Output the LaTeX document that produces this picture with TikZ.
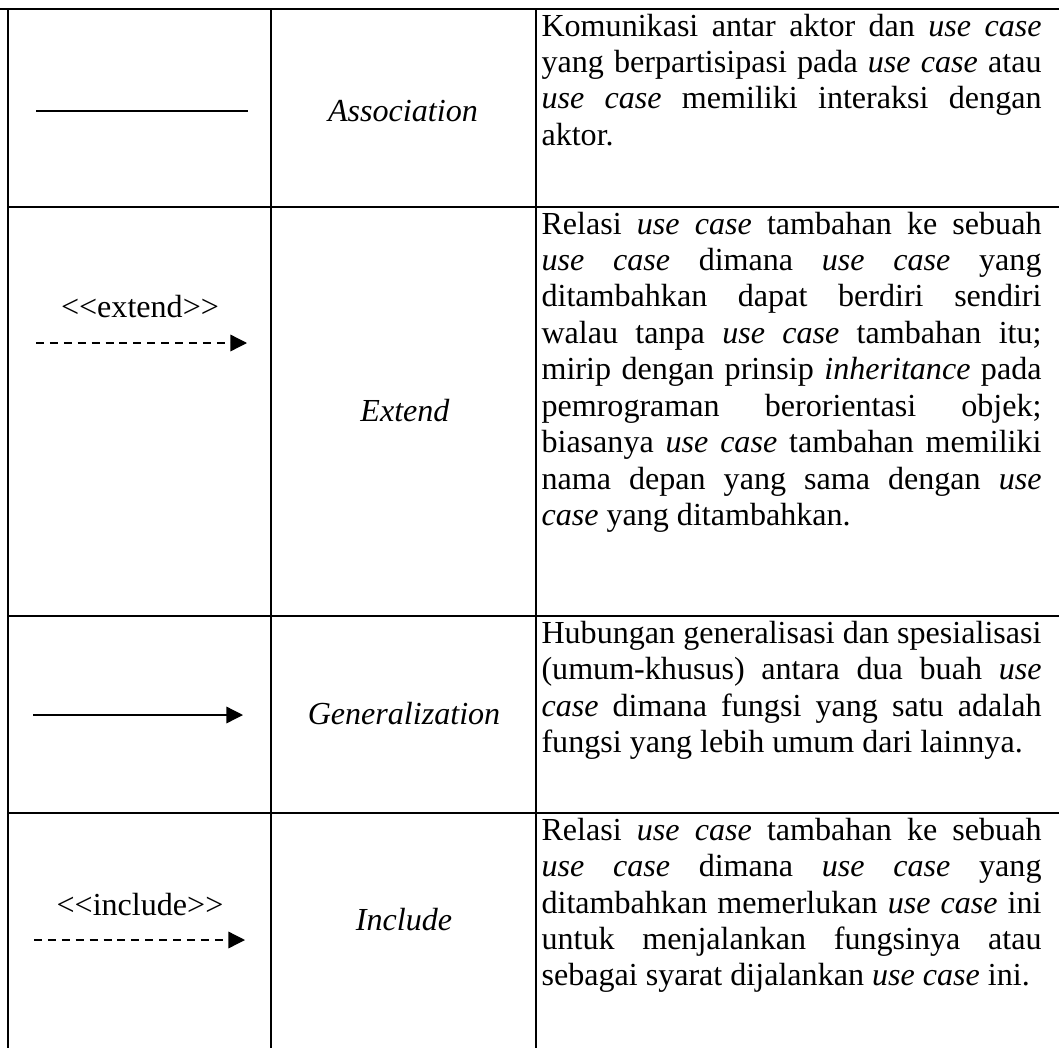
\documentclass[tikz,border=0pt]{standalone}
\usepackage{fontspec}
\setmainfont{Liberation Serif}
\usetikzlibrary{arrows.meta}
\newcommand{\jl}[1]{\makebox[\linewidth][s]{#1}\\}
\newcommand{\uc}{\textit{use case}}
\tikzset{
  grid/.style={line width=0.5pt,black},
  lbl/.style={inner sep=0pt,font=\fontsize{12}{13.65}\selectfont},
  desc/.style={inner sep=0pt,anchor=base west,font=\fontsize{12}{13.65}\selectfont},
  rel/.style={line width=0.5pt,-{Triangle[length=6.2pt,width=6.2pt]}},
  reldash/.style={rel,dash pattern=on 3pt off 2.2pt},
}
\begin{document}
\begin{tikzpicture}[x=0.374pt,y=-0.374pt]
\useasboundingbox (0,0) rectangle (1059,1048);
% grid
\coordinate (tl) at (0,9);
\coordinate (tr) at (1059,9);
\coordinate (l1) at (8,207);   \coordinate (r1) at (1059,207);
\coordinate (l2) at (8,616);   \coordinate (r2) at (1059,616);
\coordinate (l3) at (8,813);   \coordinate (r3) at (1059,813);
\coordinate (v0t) at (8,9);    \coordinate (v0b) at (8,1048);
\coordinate (v1t) at (271,9);  \coordinate (v1b) at (271,1048);
\coordinate (v2t) at (536,9);  \coordinate (v2b) at (536,1048);
\draw[grid] (tl) -- (tr);
\draw[grid] (l1) -- (r1);
\draw[grid] (l2) -- (r2);
\draw[grid] (l3) -- (r3);
\draw[grid] (v0t) -- (v0b);
\draw[grid] (v1t) -- (v1b);
\draw[grid] (v2t) -- (v2b);

% column 1 symbols
\coordinate (a1) at (36,111);  \coordinate (a2) at (248,111);
\draw[line width=0.6pt] (a1) -- (a2);

\node[lbl] (extlbl) at (140,307) {<{}<extend>{}>};
\coordinate (e1) at (36,343);  \coordinate (e2) at (247,343);
\draw[reldash] (e1) -- (e2);

\coordinate (g1) at (33,715);  \coordinate (g2) at (243,715);
\draw[rel] (g1) -- (g2);

\node[lbl] (inclbl) at (140,905) {<{}<include>{}>};
\coordinate (i1) at (34,940);  \coordinate (i2) at (245,940);
\draw[reldash] (i1) -- (i2);

% column 2 names
\node[lbl] (assoc) at (403,111) {\textit{Association}};
\node[lbl] (ext) at (405,411) {\textit{Extend}};
\node[lbl] (gen) at (404,714) {\textit{Generalization}};
\node[lbl] (inc) at (404,920) {\textit{Include}};

% column 3 descriptions
\node[desc] (d1) at (541,36) {\parbox[t]{187pt}{%
\jl{Komunikasi antar aktor dan \uc}
\jl{yang berpartisipasi pada \uc{} atau}
\jl{\uc{} memiliki interaksi dengan}
aktor.}};

\node[desc] (d2) at (541,234) {\parbox[t]{187pt}{%
\jl{Relasi \uc{} tambahan ke sebuah}
\jl{\textit{use} \textit{case} dimana \textit{use} \textit{case} yang}
\jl{ditambahkan dapat berdiri sendiri}
\jl{walau tanpa \uc{} tambahan itu;}
\jl{mirip dengan prinsip \textit{inheritance} pada}
\jl{pemrograman berorientasi objek;}
\jl{biasanya \uc{} tambahan memiliki}
\jl{nama depan yang sama dengan \textit{use}}
\textit{case} yang ditambahkan.}};

\node[desc] (d3) at (541,643) {\parbox[t]{187pt}{%
\jl{Hubungan generalisasi dan spesialisasi}
\jl{(umum-khusus) antara dua buah \textit{use}}
\jl{\textit{case} dimana fungsi yang satu adalah}
fungsi yang lebih umum dari lainnya.}};

\node[desc] (d4) at (541,840) {\parbox[t]{187pt}{%
\jl{Relasi \uc{} tambahan ke sebuah}
\jl{\textit{use} \textit{case} dimana \textit{use} \textit{case} yang}
\jl{ditambahkan memerlukan \uc{} ini}
\jl{untuk menjalankan fungsinya atau}
sebagai syarat dijalankan \uc{} ini.}};
\end{tikzpicture}
\end{document}
